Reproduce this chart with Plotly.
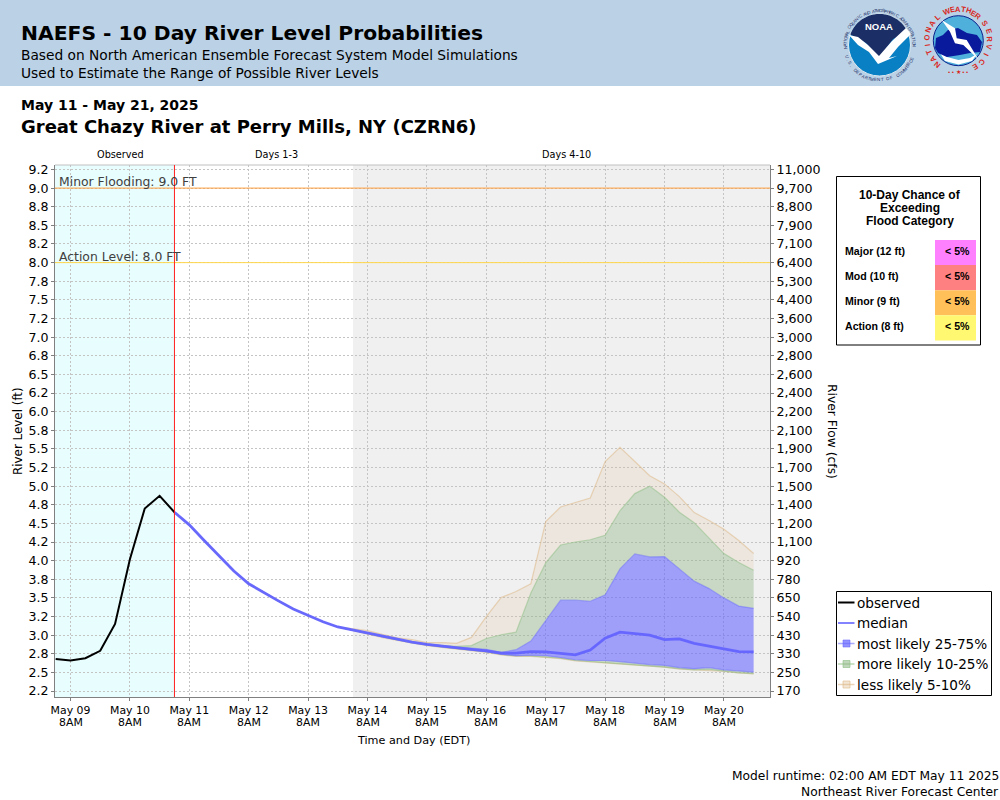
import math
import pandas as pd
import plotly.graph_objects as go

# river level axis, every 0.25 ft, labels as printed on the chart
levels = [9.25, 9.0, 8.75, 8.5, 8.25, 8.0, 7.75, 7.5, 7.25, 7.0, 6.75, 6.5, 6.25, 6.0, 5.75,
          5.5, 5.25, 5.0, 4.75, 4.5, 4.25, 4.0, 3.75, 3.5, 3.25, 3.0, 2.75, 2.5, 2.25]
level_labels = ['9.2', '9.0', '8.8', '8.5', '8.2', '8.0', '7.8', '7.5', '7.2', '7.0', '6.8', '6.5', '6.2', '6.0', '5.8',
                '5.5', '5.2', '5.0', '4.8', '4.5', '4.2', '4.0', '3.8', '3.5', '3.2', '3.0', '2.8', '2.5', '2.2']
flow_labels = ['11,000', '9,700', '8,800', '7,900', '7,100', '6,400', '5,300', '4,400', '3,600', '3,000',
               '2,800', '2,600', '2,400', '2,200', '2,100', '1,900', '1,700', '1,500', '1,400', '1,200',
               '1,100', '920', '780', '650', '540', '430', '330', '250', '170']
day_labels = ['May 09', 'May 10', 'May 11', 'May 12', 'May 13', 'May 14',
              'May 15', 'May 16', 'May 17', 'May 18', 'May 19', 'May 20']

obs_times = pd.date_range('2025-05-09 02:00', '2025-05-11 02:00', freq='6h')
fcst_times = pd.date_range('2025-05-11 02:00', '2025-05-20 20:00', freq='6h')
day_ticks = pd.date_range('2025-05-09 08:00', '2025-05-20 08:00', freq='D')

observed = [2.68, 2.66, 2.69, 2.79, 3.15, 4.02, 4.70, 4.87, 4.65]

median = [4.65, 4.48, 4.27, 4.06, 3.86, 3.69, 3.57, 3.46, 3.35, 3.26, 3.18, 3.11,
          3.07, 3.03, 2.98, 2.945, 2.905, 2.875, 2.85, 2.83, 2.81, 2.79, 2.76, 2.76,
          2.78, 2.775, 2.75, 2.735, 2.80, 2.96, 3.04, 3.015, 3.00, 2.94, 2.95, 2.89,
          2.85, 2.82, 2.78, 2.775]
high_75 = [4.65, 4.48, 4.27, 4.06, 3.86, 3.69, 3.57, 3.46, 3.35, 3.26, 3.18, 3.11,
           3.07, 3.03, 2.98, 2.945, 2.905, 2.88, 2.855, 2.84, 2.825, 2.81, 2.77, 2.805,
           2.92, 3.195, 3.47, 3.47, 3.455, 3.54, 3.89, 4.09, 4.05, 4.055, 3.89, 3.725,
           3.625, 3.50, 3.39, 3.36]
high_90 = [4.65, 4.48, 4.27, 4.06, 3.86, 3.69, 3.57, 3.46, 3.35, 3.26, 3.18, 3.11,
           3.07, 3.035, 2.985, 2.95, 2.91, 2.885, 2.86, 2.85, 2.86, 2.955, 3.005, 3.04,
           3.565, 3.97, 4.21, 4.25, 4.28, 4.34, 4.67, 4.90, 5.00, 4.85, 4.65, 4.51,
           4.30, 4.095, 3.975, 3.87]
high_95 = [4.65, 4.48, 4.27, 4.06, 3.86, 3.69, 3.57, 3.46, 3.35, 3.26, 3.18, 3.11,
           3.08, 3.06, 3.01, 2.965, 2.94, 2.90, 2.90, 2.89, 2.97, 3.25, 3.505, 3.585,
           3.69, 4.525, 4.72, 4.78, 4.84, 5.33, 5.52, 5.33, 5.14, 5.03, 4.86, 4.645,
           4.54, 4.42, 4.27, 4.095]
low_25 = [4.65, 4.48, 4.27, 4.06, 3.86, 3.69, 3.57, 3.46, 3.35, 3.26, 3.18, 3.11,
          3.07, 3.025, 2.975, 2.94, 2.90, 2.87, 2.845, 2.825, 2.805, 2.78, 2.745, 2.725,
          2.73, 2.725, 2.70, 2.67, 2.66, 2.66, 2.645, 2.62, 2.605, 2.595, 2.565, 2.55,
          2.565, 2.535, 2.525, 2.505]
low_10 = [4.65, 4.48, 4.27, 4.06, 3.86, 3.69, 3.57, 3.46, 3.35, 3.26, 3.18, 3.11,
          3.065, 3.02, 2.97, 2.935, 2.895, 2.865, 2.84, 2.82, 2.80, 2.775, 2.74, 2.72,
          2.72, 2.71, 2.69, 2.66, 2.645, 2.64, 2.625, 2.60, 2.59, 2.57, 2.55, 2.535,
          2.54, 2.515, 2.495, 2.485]
low_5 = [4.65, 4.48, 4.27, 4.06, 3.86, 3.69, 3.57, 3.46, 3.35, 3.26, 3.18, 3.11,
         3.06, 3.015, 2.965, 2.93, 2.89, 2.86, 2.835, 2.815, 2.795, 2.77, 2.735, 2.715,
         2.715, 2.70, 2.685, 2.655, 2.64, 2.635, 2.62, 2.595, 2.58, 2.57, 2.545, 2.535,
         2.535, 2.515, 2.495, 2.48]

categories = ['Major (12 ft)', 'Mod (10 ft)', 'Minor (9 ft)', 'Action (8 ft)']
chances = ['< 5%', '< 5%', '< 5%', '< 5%']
category_colors = ['#FF80FF', '#FF8080', '#FFC05A', '#FFF870']

legend_names = ['observed', 'median', 'most likely 25-75%', 'more likely 10-25%', 'less likely 5-10%']
legend_lines = ['#000000', 'rgba(100,100,255,0.8)', 'rgba(100,100,255,0.55)', 'rgba(140,190,130,0.6)', 'rgba(222,184,135,0.6)']
legend_boxes = [None, None, 'rgba(100,100,255,0.7)', 'rgba(140,180,130,0.55)', 'rgba(222,184,135,0.35)']

BLUE_FILL = 'rgba(100,100,255,0.58)'
GREEN_FILL = 'rgba(140,180,130,0.40)'
TAN_FILL = 'rgba(222,184,135,0.17)'
FONT = 'DejaVu Sans'
ARIAL = 'Liberation Sans'

# plot area in page pixels
L, R, T, B = 55, 770, 165, 697
W, H = 1000, 800


def px(x):
    return (x - L) / (R - L)


def py(y):
    return (B - y) / (B - T)


shapes = []
notes = []


def box(x0, y0, x1, y1, fill=None, line=None, width=1, layer='above'):
    shapes.append(dict(type='rect', xref='paper', yref='paper', x0=px(x0), x1=px(x1), y0=py(y0), y1=py(y1),
                       fillcolor=fill, line=dict(color=line, width=width if line else 0), layer=layer))


def disc(cx, cy, r, fill, line=None, width=1):
    shapes.append(dict(type='circle', xref='paper', yref='paper', x0=px(cx - r), x1=px(cx + r),
                       y0=py(cy + r), y1=py(cy - r), fillcolor=fill,
                       line=dict(color=line, width=width if line else 0)))


def poly(points, fill, line=None, width=0):
    path = 'M' + ' L'.join(f'{px(x):.5f},{py(y):.5f}' for x, y in points) + ' Z'
    shapes.append(dict(type='path', xref='paper', yref='paper', path=path, fillcolor=fill,
                       line=dict(color=line, width=width)))


def seg(x0, y0, x1, y1, color, width=1):
    shapes.append(dict(type='line', xref='paper', yref='paper', x0=px(x0), x1=px(x1), y0=py(y0), y1=py(y1),
                       line=dict(color=color, width=width)))


def note(x, y, text, size, color='#000000', bold=False, anchor='left', family=FONT, angle=0):
    notes.append(dict(xref='paper', yref='paper', x=px(x), y=py(y), text=f'<b>{text}</b>' if bold else text,
                      showarrow=False, xanchor=anchor, yanchor='middle', textangle=angle,
                      font=dict(family=family, size=size, color=color), borderpad=0, borderwidth=0))


def ring_text(cx, cy, r, text, start, step, size, color, bold=False):
    # one annotation per letter, turned along the circle (angles clockwise from 12 o'clock)
    for i, ch in enumerate(text):
        a = start + i * step
        if ch == ' ':
            continue
        rad = math.radians(a)
        rot = a if step > 0 else a + 180
        note(cx + r * math.sin(rad), cy - r * math.cos(rad), ch, size, color, bold, 'center', ARIAL, rot)


# header and backgrounds
box(0, 0, 1000, 86, fill='#BBD2E6', layer='below')
box(55, 165, 174.5, 697, fill='#E8FDFD', layer='below')
box(353, 165, 770, 697, fill='#F0F0F0', layer='below')
seg(55, 165, 770, 165, '#C0C0C0')

note(21, 33, 'NAEFS - 10 Day River Level Probabilities', 20.3, bold=True)
note(21, 54.5, 'Based on North American Ensemble Forecast System Model Simulations', 13.76)
note(21, 73.5, 'Used to Estimate the Range of Possible River Levels', 13.76)
note(21, 105.5, 'May 11 - May 21, 2025', 14, bold=True)
note(21, 126, 'Great Chazy River at Perry Mills, NY (CZRN6)', 18, bold=True)

note(120, 154, 'Observed', 9.7, anchor='center')
note(276, 154, 'Days 1-3', 9.7, anchor='center')
note(566, 154, 'Days 4-10', 9.7, anchor='center')

note(59, 181.5, 'Minor Flooding: 9.0 FT', 12.4, '#404040')
note(59, 256.5, 'Action Level: 8.0 FT', 12.4, '#404040')
note(18, 431, 'River Level (ft)', 11.9, anchor='center', angle=-90)
note(832, 431, 'River Flow (cfs)', 12.3, anchor='center', angle=90)
note(413, 740, 'Time and Day (EDT)', 11.2, anchor='center')
note(999, 775.5, 'Model runtime: 02:00 AM EDT May 11 2025', 12.26, anchor='right')
note(999, 791.5, 'Northeast River Forecast Center', 12.26, anchor='right')

# second row of the day labels, tighter than a <br> in a tick label
for tick in day_ticks:
    notes.append(dict(xref='x', yref='paper', x=tick, y=py(722.5), text='8AM', showarrow=False,
                      xanchor='center', yanchor='middle', font=dict(family=FONT, size=10.9, color='#000000')))

# flood category table
box(836.5, 176.5, 980.5, 345, fill='#FFFFFF', line='#000000')
note(910, 195, '10-Day Chance of', 12, bold=True, anchor='center', family=ARIAL)
note(910, 208, 'Exceeding', 12, bold=True, anchor='center', family=ARIAL)
note(910, 221, 'Flood Category', 12, bold=True, anchor='center', family=ARIAL)
for i, (cat, chance, color) in enumerate(zip(categories, chances, category_colors)):
    top = 240 + i * 25.1
    box(935, top, 976, top + 25.1, fill=color)
    note(845, top + 10.8, cat, 10.6, bold=True, family=ARIAL)
    note(957, top + 10.8, chance, 10.6, bold=True, anchor='center', family=ARIAL)

# legend
box(836.5, 591.5, 991.5, 695.5, fill='#FFFFFF', line='#000000')
for i, (name, line, fill) in enumerate(zip(legend_names, legend_lines, legend_boxes)):
    row = 602.5 + i * 20.5
    seg(838, row, 854.5, row, line, 2 if i < 2 else 1.5)
    if fill:
        box(843, row - 3.5, 850, row + 3.5, fill=fill, line=line)
    note(857, row, name, 13.6, anchor='left')

# NOAA seal
NX, NY = 879.5, 45
disc(NX, NY, 31, '#0A80C4', '#DDE8F0', 1)
arc = [(NX + 31 * math.cos(math.radians(a)), NY - 31 * math.sin(math.radians(a))) for a in range(160, 15, -5)]
poly(arc + [(905, 33), (893, 39), (879, 58), (866, 43), (855, 37)], '#1B2F66')
poly([(849, 35), (858, 37), (868, 45), (879, 56), (892, 41), (906, 28), (911, 34), (898, 47), (889, 58),
      (897, 56), (878, 64), (869, 52), (858, 45)], '#FFFFFF')
note(NX - 0.5, 26, 'NOAA', 9.5, '#FFFFFF', True, 'center', ARIAL)
ring_text(NX, NY, 34.5, 'NATIONAL OCEANIC AND ATMOSPHERIC ADMINISTRATION', -95, 4.05, 4.4, '#1B2F66')
ring_text(NX, NY, 35, 'U.S. DEPARTMENT OF COMMERCE', 250, -5.3, 4.4, '#1B2F66')

# NWS seal
SX, SY = 958.3, 40.7
ring_text(SX, SY, 31.5, 'NATIONAL', -140, 14, 7.6, '#D9281E', True)
ring_text(SX, SY, 31.5, 'WEATHER', -21, 10, 7.6, '#D9281E', True)
ring_text(SX, SY, 31.5, 'SERVICE', 57, 15, 7.6, '#D9281E', True)
note(SX, 71.5, '• • ★ • •', 6, '#D9281E', False, 'center', ARIAL)
disc(SX, SY, 25, '#4FB0DC', '#0B1F8C', 1)
poly([(940, 53), (947, 57), (958.5, 60), (970, 58), (977, 54), (972, 61), (958.5, 64.5), (945, 61)], '#FFFFFF')
poly([(935, 48), (936, 38), (943, 35), (948, 30), (958, 28), (967, 33), (977, 35), (982, 42), (980, 52),
      (970, 53), (960, 55), (947, 57), (938, 53)], '#0A1A9C')
poly([(941.7, 20), (955, 28.3), (956.7, 38.3), (966.7, 40), (978.3, 59.3), (963.3, 45), (955, 43.3),
      (950, 31.7)], '#FFFFFF')

# flood lines and the forecast start line
shapes.append(dict(type='line', xref='paper', yref='y', x0=0, x1=1, y0=9.0, y1=9.0,
                   line=dict(color='#FF9E3D', width=1)))
shapes.append(dict(type='line', xref='paper', yref='y', x0=0, x1=1, y0=8.0, y1=8.0,
                   line=dict(color='#FFD84D', width=1)))
shapes.append(dict(type='line', xref='x', yref='paper', x0=fcst_times[0], x1=fcst_times[0], y0=0, y1=1,
                   line=dict(color='#FF2020', width=1)))

fig = go.Figure()

# percentile bands stacked from the bottom up, each one filled to the one below
bands = [
    ('low 5%', low_5, 'rgba(222,184,135,0.5)', None),
    ('low 10%', low_10, 'rgba(140,190,130,0.5)', TAN_FILL),
    ('low 25%', low_25, 'rgba(100,100,255,0.5)', GREEN_FILL),
    ('high 75%', high_75, 'rgba(100,100,255,0.45)', BLUE_FILL),
    ('high 90%', high_90, 'rgba(140,190,130,0.5)', GREEN_FILL),
    ('high 95%', high_95, 'rgba(222,184,135,0.55)', TAN_FILL),
]
for name, values, line, fill in bands:
    fig.add_trace(go.Scatter(x=fcst_times, y=values, name=name, mode='lines',
                             line=dict(color=line, width=1.2),
                             fill='tonexty' if fill else None, fillcolor=fill, showlegend=False))

fig.add_trace(go.Scatter(x=fcst_times, y=median, name='median', mode='lines',
                         line=dict(color='rgba(100,100,255,0.95)', width=2.8), showlegend=False))
fig.add_trace(go.Scatter(x=obs_times, y=observed, name='observed', mode='lines',
                         line=dict(color='#000000', width=2), showlegend=False))
# carries the flow axis on the right
fig.add_trace(go.Scatter(x=[fcst_times[0]], y=[None], yaxis='y2', showlegend=False, hoverinfo='skip'))

x_range = ['2025-05-09 01:44', '2025-05-21 02:37']
y_range = [2.17, 9.31]

fig.update_layout(
    width=W, height=H,
    margin=dict(l=L, r=W - R, t=T, b=H - B, autoexpand=False),
    paper_bgcolor='#FFFFFF',
    plot_bgcolor='#FFFFFF',
    showlegend=False,
    font=dict(family=FONT, color='#000000'),
    shapes=shapes,
    annotations=notes,
    xaxis=dict(type='date', range=x_range, tickmode='array', tickvals=list(day_ticks),
               ticktext=day_labels,
               tickfont=dict(size=10.9), ticks='outside', ticklen=3, tickcolor='#808080',
               showgrid=True, gridcolor='#C4C4C4', griddash='2px,2px', gridwidth=1,
               showline=True, linecolor='#808080', linewidth=1, zeroline=False),
    yaxis=dict(range=y_range, tickmode='array', tickvals=levels, ticktext=level_labels,
               tickfont=dict(size=12.6), ticks='outside', ticklen=3, tickcolor='#808080',
               showgrid=True, gridcolor='#C4C4C4', griddash='2px,2px', gridwidth=1,
               showline=True, linecolor='#808080', linewidth=1, zeroline=False),
    yaxis2=dict(range=y_range, overlaying='y', side='right', anchor='x', tickmode='array',
                tickvals=levels, ticktext=flow_labels,
                tickfont=dict(size=12.6), ticks='outside', ticklen=3, tickcolor='#808080',
                showgrid=False, showline=True, linecolor='#808080', linewidth=1, zeroline=False),
)

fig.write_html("out.html", config={'displayModeBar': False},
               post_script="document.body.style.margin='0';")
